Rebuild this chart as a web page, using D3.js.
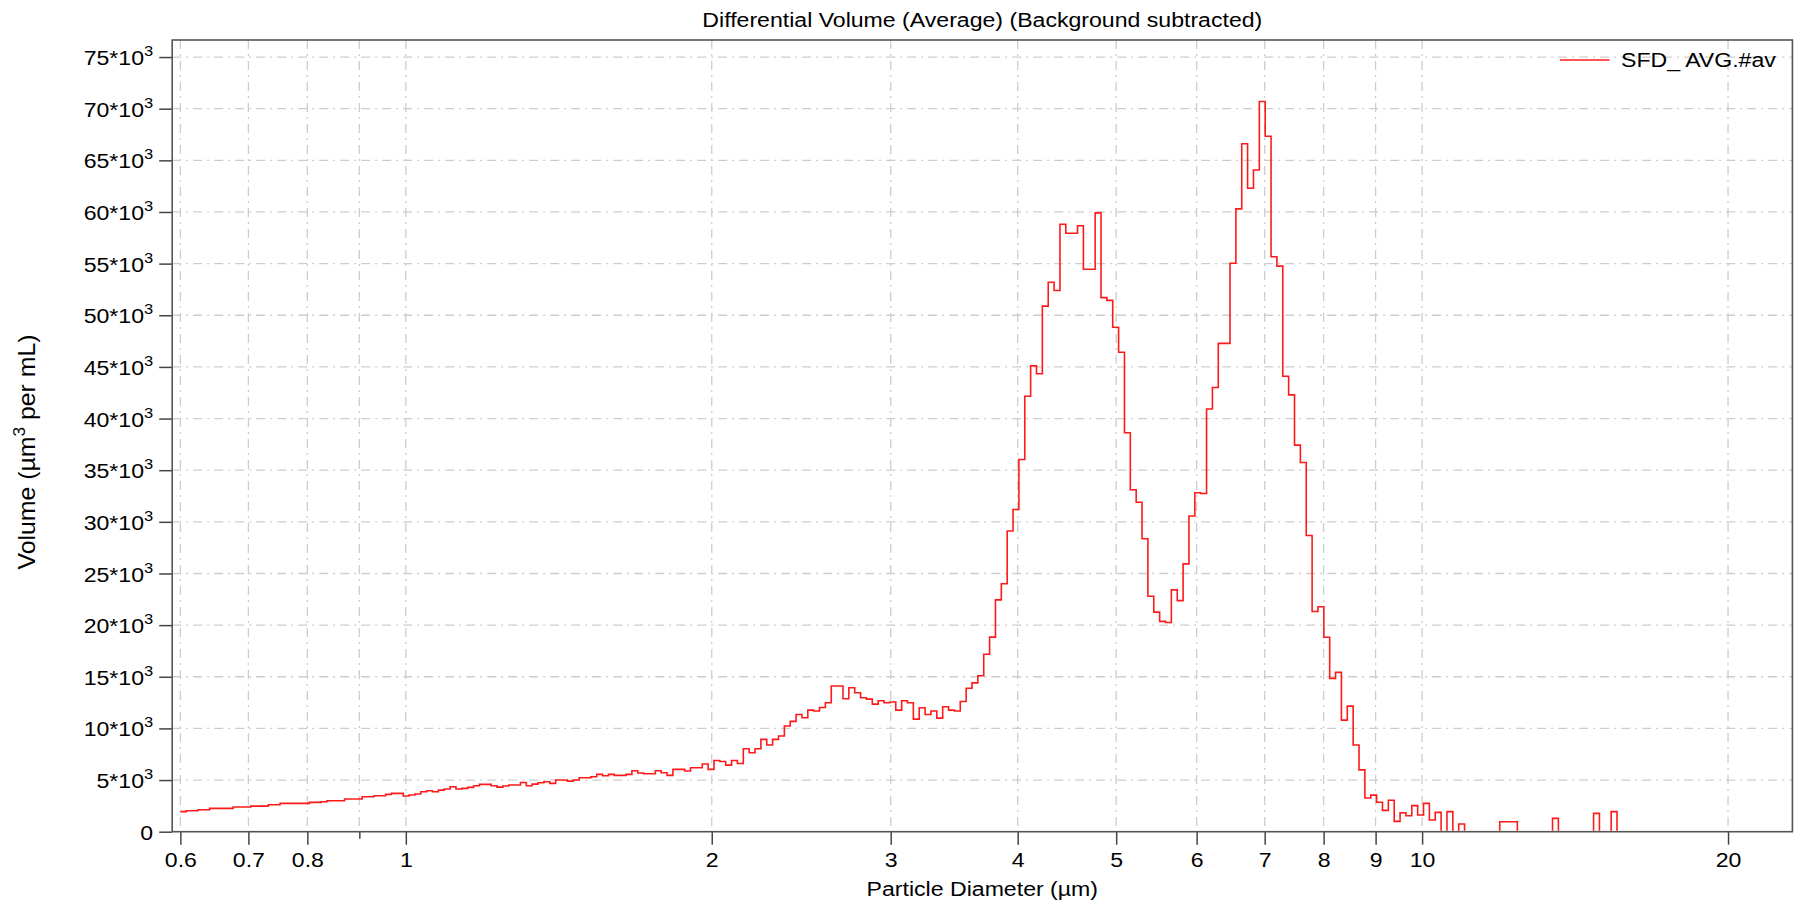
<!DOCTYPE html>
<html>
<head>
<meta charset="utf-8">
<script src="https://cdn.jsdelivr.net/npm/d3@7"></script>
<style>
  body { margin: 0; background: #fff; }
  text { font-family: "Liberation Sans", Arial, sans-serif; }
</style>
</head>
<body>
<div id="d3-container"></div>
<script>
const width = 1800;
const height = 905;
const margin = { top: 40, right: 7.6, bottom: 73.3, left: 172.2 };

// instrument channels: log spaced between these diameters (µm)
const diamStart = 0.6;
const diamEnd = 18;
const channels = 256;

// differential volume per channel (µm³ per mL)
const volume = [
  1940, 2030, 2030, 2130, 2130, 2260, 2260, 2260, 2260, 2390,
  2390, 2390, 2480, 2480, 2480, 2610, 2610, 2740, 2740, 2740,
  2740, 2740, 2840, 2840, 2900, 3000, 3000, 3000, 3160, 3160,
  3160, 3390, 3390, 3480, 3480, 3610, 3710, 3710, 3450, 3550,
  3650, 3870, 3970, 3870, 4030, 4130, 4350, 4130, 4190, 4290,
  4450, 4580, 4580, 4450, 4320, 4420, 4520, 4520, 4770, 4450,
  4610, 4740, 4840, 4680, 5000, 5000, 4900, 5000, 5230, 5230,
  5320, 5550, 5420, 5550, 5450, 5450, 5550, 5900, 5680, 5610,
  5610, 5900, 5710, 5450, 6030, 6030, 5870, 6190, 6190, 6550,
  6030, 6900, 6800, 6450, 6900, 6610, 8030, 7650, 8030, 8940,
  8390, 8940, 9260, 10230, 10680, 11350, 11030, 11770, 11680, 12030,
  12480, 14100, 14100, 12870, 13940, 13450, 12970, 12840, 12350, 12680,
  12480, 12550, 11770, 12680, 12480, 10900, 12000, 11350, 11680, 11000,
  12100, 11770, 11680, 12600, 13890, 14410, 15100, 17180, 18840, 22440,
  24000, 29120, 31190, 36040, 42160, 45100, 44340, 50880, 53200, 52400,
  58810, 57940, 57940, 58670, 54450, 54450, 59910, 51710, 51440, 48840,
  46420, 38630, 33100, 31890, 28360, 22790, 21260, 20360, 20260, 23410,
  22370, 25930, 30570, 32820, 32750, 40930, 43000, 47280, 47280, 55040,
  60300, 66600, 62300, 64070, 70690, 67330, 55670, 54760, 44100, 42290,
  37430, 35750, 28680, 21320, 21780, 18830, 14840, 15430, 10800, 12160,
  8390, 5990, 3270, 3540, 2850, 2060, 3050, 1000, 1840, 1550,
  2520, 1610, 2740, 1130, 1870, 0, 1940, 0, 740, 0,
  0, 0, 0, 0, 0, 970, 970, 970, 0, 0,
  0, 0, 0, 0, 1290, 0, 0, 0, 0, 0,
  0, 1770, 0, 0, 1940, 0, 0, 0, 0, 0,
  0, 0, 0, 0, 0, 0
];

const xTicks = [0.6, 0.7, 0.8, 0.9, 1, 2, 3, 4, 5, 6, 7, 8, 9, 10, 20];
const xUnlabelled = [0.9];
const yTicks = d3.range(0, 75001, 5000);

const seriesName = 'SFD_ AVG.#av';
const stretch = 1.1;   // text in the original is a bit wide

const svg = d3.select('#d3-container')
  .append('svg')
  .attr('width', width)
  .attr('height', height)
  .attr('viewBox', [0, 0, width, height]);

const x = d3.scaleLog()
  .domain([0.589, 23.14])
  .range([margin.left, width - margin.right]);

const y = d3.scaleLinear()
  .domain([0, 76650])
  .range([height - margin.bottom, margin.top]);

const plotLeft = margin.left, plotRight = width - margin.right;
const plotTop = margin.top, plotBottom = height - margin.bottom;

// keeps the zero channels hidden under the x axis
svg.append('clipPath')
  .attr('id', 'plot-clip')
  .append('rect')
    .attr('x', plotLeft).attr('y', plotTop)
    .attr('width', plotRight - plotLeft)
    .attr('height', plotBottom - plotTop - 1);

// grid
const grid = svg.append('g')
  .attr('stroke', '#cdcdcd')
  .attr('stroke-width', 1.3)
  .attr('stroke-dasharray', '9,5,2,5');

grid.selectAll('.gy')
  .data(yTicks.filter(d => d > 0))
  .join('line')
    .attr('class', 'gy')
    .attr('x1', plotLeft).attr('x2', plotRight)
    .attr('y1', d => y(d)).attr('y2', d => y(d));

grid.selectAll('.gx')
  .data(xTicks)
  .join('line')
    .attr('class', 'gx')
    .attr('x1', d => x(d)).attr('x2', d => x(d))
    .attr('y1', plotTop).attr('y2', plotBottom);

// step line
const edges = d3.range(channels + 1)
  .map(i => diamStart * Math.pow(diamEnd / diamStart, i / channels));
const points = volume.map((v, i) => [edges[i], v]);
points.push([edges[channels], volume[channels - 1]]);

const line = d3.line()
  .x(d => x(d[0]))
  .y(d => y(d[1]))
  .curve(d3.curveStepAfter);

svg.append('path')
  .datum(points)
  .attr('clip-path', 'url(#plot-clip)')
  .attr('fill', 'none')
  .attr('stroke', '#ff1a1a')
  .attr('stroke-width', 1.6)
  .attr('d', line);

// axes
function xAxis(g) {
  g.attr('transform', `translate(0, ${plotBottom})`)
    .call(d3.axisBottom(x)
      .tickValues(xTicks)
      .tickFormat(d => xUnlabelled.includes(d) ? '' : d)
      .tickSize(13)
      .tickPadding(7)
      .tickSizeOuter(0));
  g.select('.domain').remove();
  g.selectAll('.tick line')
    .attr('stroke', '#444')
    .attr('stroke-width', 1.5)
    .filter(d => xUnlabelled.includes(d))
    .attr('y2', 7);
  g.selectAll('.tick text')
    .attr('fill', '#000')
    .attr('transform', `scale(${stretch},1)`);
}

function yAxis(g) {
  g.attr('transform', `translate(${plotLeft}, 0)`)
    .call(d3.axisLeft(y)
      .tickValues(yTicks)
      .tickSize(13)
      .tickPadding(6)
      .tickSizeOuter(0));
  g.select('.domain').remove();
  g.selectAll('.tick line')
    .attr('stroke', '#444')
    .attr('stroke-width', 1.5);
  g.selectAll('.tick text')
    .attr('fill', '#000')
    .attr('x', -19 / stretch)
    .attr('dy', '0.36em')
    .attr('transform', `scale(${stretch},1)`)
    .each(function(d) {
      const t = d3.select(this).text(null);
      if (d === 0) { t.text('0'); return; }
      t.append('tspan').text(`${d / 1000}*10`);
      t.append('tspan').attr('font-size', 15).attr('dy', -9).text('3');
    });
}

svg.append('g').call(xAxis).attr('font-size', 21).attr('font-family', null);
svg.append('g').call(yAxis).attr('font-size', 21).attr('font-family', null);

// frame
svg.append('rect')
  .attr('x', plotLeft).attr('y', plotTop)
  .attr('width', plotRight - plotLeft).attr('height', plotBottom - plotTop)
  .attr('fill', 'none')
  .attr('stroke', '#555')
  .attr('stroke-width', 1.6);

// titles
const midX = (plotLeft + plotRight) / 2;

svg.append('text')
  .attr('transform', `translate(${midX}, 27) scale(${stretch},1)`)
  .attr('text-anchor', 'middle')
  .attr('font-size', 21)
  .text('Differential Volume (Average) (Background subtracted)');

svg.append('text')
  .attr('transform', `translate(${midX}, 896) scale(${stretch},1)`)
  .attr('text-anchor', 'middle')
  .attr('font-size', 21)
  .text('Particle Diameter (µm)');

const yLabel = svg.append('text')
  .attr('transform', 'translate(35, 452) rotate(-90) scale(1.08,1)')
  .attr('text-anchor', 'middle')
  .attr('font-size', 23);
yLabel.append('tspan').text('Volume (µm');
yLabel.append('tspan').attr('font-size', 16).attr('dy', -10).text('3');
yLabel.append('tspan').attr('dy', 10).text(' per mL)');

// legend
svg.append('line')
  .attr('x1', 1560).attr('x2', 1609.5)
  .attr('y1', 60).attr('y2', 60)
  .attr('stroke', '#ff1a1a')
  .attr('stroke-width', 1.6);

svg.append('text')
  .attr('transform', `translate(1621, 66.7) scale(${stretch},1)`)
  .attr('font-size', 21)
  .text(seriesName);
</script>
</body>
</html>
